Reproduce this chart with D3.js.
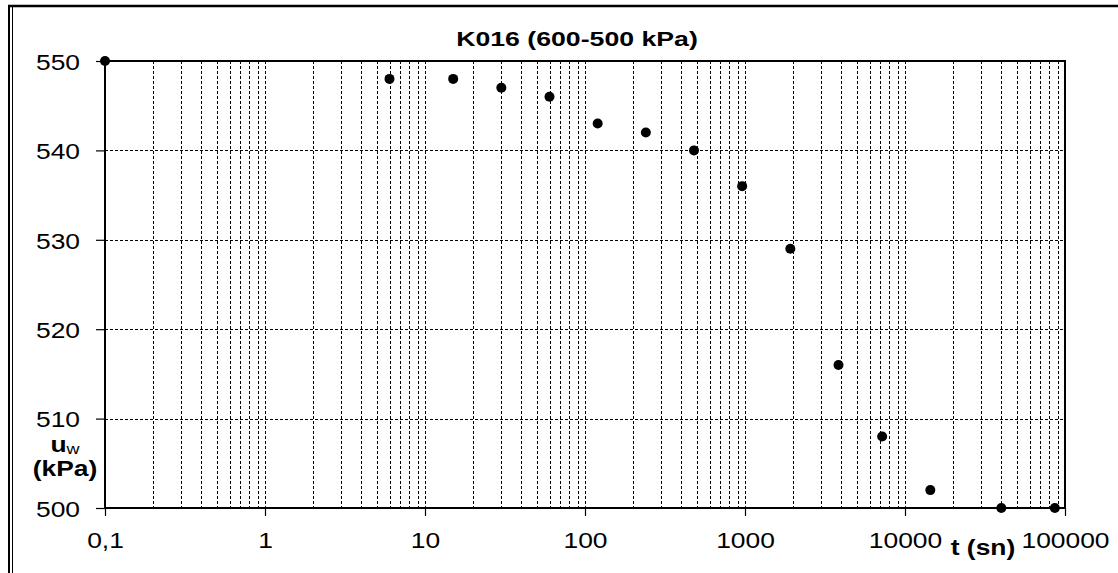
<!DOCTYPE html>
<html>
<head>
<meta charset="utf-8">
<script src="https://cdn.jsdelivr.net/npm/d3@7"></script>
<style>
  body { margin: 0; background: #fff; }
  svg { display: block; font-family: "Liberation Sans", Arial, sans-serif; }
  .wide { transform-box: fill-box; transform-origin: center; transform: scaleX(1.2); }
  .wideT { transform-box: fill-box; transform-origin: center; transform: scaleX(1.27); }
  .wideR { transform-box: fill-box; transform-origin: right center; transform: scaleX(1.2); }
</style>
</head>
<body>
<svg id="chart" width="1118" height="573"></svg>
<script>
// time (s) vs pore pressure (kPa)
var tValues = [0.1, 6, 15, 30, 60, 120, 240, 480, 960, 1920, 3840, 7200, 14400, 40000, 86400];
var uwValues = [550, 548, 548, 547, 546, 543, 542, 540, 536, 529, 516, 508, 502, 500, 500];

var xTickValues = [0.1, 1, 10, 100, 1000, 10000, 100000];
var xTickLabels = ["0,1", "1", "10", "100", "1000", "10000", "100000"];
var yTickValues = [500, 510, 520, 530, 540, 550];

var chartTitle = "K016 (600-500 kPa)";

var svg = d3.select("#chart");

var plotLeft = 105, plotRight = 1065, plotTop = 61, plotBottom = 508;

var x = d3.scaleLog().domain([0.1, 100000]).range([plotLeft, plotRight]);
var y = d3.scaleLinear().domain([500, 550]).range([plotBottom, plotTop]);

// outer frame bits (top line + double left line)
svg.append("line").attr("x1", 8).attr("x2", 1118).attr("y1", 6).attr("y2", 6)
   .attr("stroke", "#000").attr("stroke-width", 2.5);
svg.append("line").attr("x1", 9).attr("x2", 9).attr("y1", 5).attr("y2", 573)
   .attr("stroke", "#000").attr("stroke-width", 2);
svg.append("line").attr("x1", 12.5).attr("x2", 12.5).attr("y1", 7).attr("y2", 573)
   .attr("stroke", "#000").attr("stroke-width", 1);

// grid
var grid = svg.append("g");
grid.selectAll("line.vx")
  .data(x.ticks().filter(function(d) { return d > 0.1 && d < 100000; }))
  .enter().append("line")
  .attr("x1", function(d) { return Math.round(x(d)) + 0.5; })
  .attr("x2", function(d) { return Math.round(x(d)) + 0.5; })
  .attr("y1", plotTop).attr("y2", plotBottom)
  .attr("stroke", "#000").attr("stroke-width", 1).attr("stroke-dasharray", "3,2");

grid.selectAll("line.hy")
  .data(yTickValues.filter(function(d) { return d > 500 && d < 550; }))
  .enter().append("line")
  .attr("x1", plotLeft).attr("x2", plotRight)
  .attr("y1", function(d) { return Math.round(y(d)) + 0.5; })
  .attr("y2", function(d) { return Math.round(y(d)) + 0.5; })
  .attr("stroke", "#000").attr("stroke-width", 1).attr("stroke-dasharray", "3,2");

// plot frame
svg.append("rect")
  .attr("x", plotLeft).attr("y", plotTop)
  .attr("width", plotRight - plotLeft).attr("height", plotBottom - plotTop)
  .attr("fill", "none").attr("stroke", "#000").attr("stroke-width", 2);

// axes
var xAxis = svg.append("g")
  .attr("transform", "translate(0," + plotBottom + ")")
  .call(d3.axisBottom(x).tickValues(xTickValues)
    .tickFormat(function(d, i) { return xTickLabels[i]; })
    .tickSize(8).tickPadding(16));
xAxis.select(".domain").remove();
xAxis.selectAll("line").attr("stroke", "#000").attr("stroke-width", 1.2);
xAxis.selectAll("text")
  .attr("font-size", 22).attr("font-family", "Liberation Sans, Arial, sans-serif")
  .attr("fill", "#000").attr("class", "wide");

var yAxis = svg.append("g")
  .attr("transform", "translate(" + plotLeft + ",0)")
  .call(d3.axisLeft(y).tickValues(yTickValues).tickSize(9).tickPadding(16));
yAxis.select(".domain").remove();
yAxis.selectAll("line").attr("stroke", "#000").attr("stroke-width", 1.2);
yAxis.selectAll("text")
  .attr("font-size", 22).attr("font-family", "Liberation Sans, Arial, sans-serif")
  .attr("fill", "#000").attr("dy", "0.38em").attr("class", "wideR");

// points
svg.selectAll("circle.pt")
  .data(tValues)
  .enter().append("circle")
  .attr("cx", function(d) { return x(d); })
  .attr("cy", function(d, i) { return y(uwValues[i]); })
  .attr("r", 5)
  .attr("fill", "#000");

// title
svg.append("text")
  .attr("x", 577).attr("y", 46.5)
  .attr("text-anchor", "middle")
  .attr("font-size", 21).attr("font-weight", "bold")
  .attr("class", "wideT")
  .text(chartTitle);

// y label u_w (kPa)
var yl = svg.append("text")
  .attr("x", 65).attr("y", 452)
  .attr("text-anchor", "middle")
  .attr("font-size", 22).attr("font-weight", "bold")
  .attr("class", "wide");
yl.append("tspan").text("u");
yl.append("tspan").attr("font-size", 15).attr("font-weight", "normal").attr("dy", 2).text("w");

svg.append("text")
  .attr("x", 65).attr("y", 476)
  .attr("text-anchor", "middle")
  .attr("font-size", 22).attr("font-weight", "bold")
  .attr("class", "wide")
  .text("(kPa)");

// x label
svg.append("text")
  .attr("x", 983).attr("y", 555)
  .attr("text-anchor", "middle")
  .attr("font-size", 22).attr("font-weight", "bold")
  .attr("class", "wide")
  .text("t (sn)");
</script>
</body>
</html>
